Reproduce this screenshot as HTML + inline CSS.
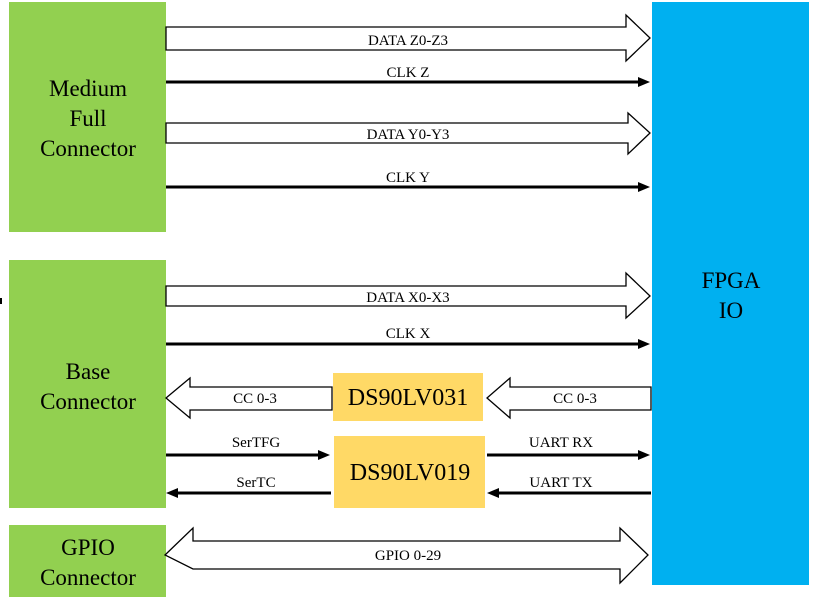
<!DOCTYPE html>
<html><head><style>html,body{margin:0;padding:0;background:#fff;width:823px;height:600px;overflow:hidden}
svg text{font-family:"Liberation Serif","Times New Roman",serif}</style></head>
<body>
<svg width="823" height="600" viewBox="0 0 823 600" xmlns="http://www.w3.org/2000/svg">
<rect x="9" y="2" width="157" height="230" fill="#92d050"/>
<rect x="9" y="260" width="157" height="248" fill="#92d050"/>
<rect x="9" y="525" width="157" height="72" fill="#92d050"/>
<rect x="652" y="2" width="157" height="583" fill="#00b0f0"/>
<rect x="333" y="373" width="150" height="48" fill="#ffd966"/>
<rect x="334" y="436" width="151" height="72" fill="#ffd966"/>
<g font-size="23" text-anchor="middle" fill="#000">
<text x="88" y="96">Medium</text><text x="88" y="126">Full</text><text x="88" y="156">Connector</text>
<text x="88" y="379">Base</text><text x="88" y="409">Connector</text>
<text x="88" y="555">GPIO</text><text x="88" y="585">Connector</text>
<text x="731" y="288">FPGA</text><text x="731" y="318">IO</text>
<text x="408" y="405" font-size="24">DS90LV031</text>
<text x="410" y="480" font-size="24">DS90LV019</text>
</g>
<g fill="#fff" stroke="#000" stroke-width="1.3">
<polygon points="166,27 626,27 626,15 650,38 626,61 626,50 166,50"/>
<polygon points="166,123 628,123 628,113 650,133 628,154 628,143 166,143"/>
<polygon points="166,286 626,286 626,273 650,296 626,318 626,306 166,306"/>
<polygon points="332,387 190,387 190,378 166,398 190,418 190,410 332,410"/>
<polygon points="651,387 510,387 510,378 487,398 510,418 510,410 651,410"/>
<polygon points="165,555 193,528 193,541 620,541 620,528 648,555 620,583 620,569 193,569"/>
</g>
<g stroke="#000" stroke-width="3">
<line x1="166" y1="82" x2="640" y2="82"/>
<line x1="166" y1="187" x2="640" y2="187"/>
<line x1="166" y1="344" x2="640" y2="344"/>
<line x1="166" y1="455" x2="320" y2="455"/>
<line x1="487" y1="455" x2="640" y2="455"/>
<line x1="176" y1="493" x2="331" y2="493"/>
<line x1="497" y1="493" x2="651" y2="493"/>
</g>
<g fill="#000">
<polygon points="638,77 650,82 638,87"/>
<polygon points="638,182 650,187 638,192"/>
<polygon points="638,339 650,344 638,349"/>
<polygon points="318,450 330,455 318,460"/>
<polygon points="638,450 650,455 638,460"/>
<polygon points="178,488 166,493 178,498"/>
<polygon points="499,488 487,493 499,498"/>
</g>
<g font-size="15" text-anchor="middle" fill="#000">
<text x="408" y="45">DATA Z0-Z3</text>
<text x="408" y="77">CLK Z</text>
<text x="408" y="139">DATA Y0-Y3</text>
<text x="408" y="182">CLK Y</text>
<text x="408" y="302">DATA X0-X3</text>
<text x="408" y="338">CLK X</text>
<text x="255" y="403">CC 0-3</text>
<text x="575" y="403">CC 0-3</text>
<text x="256" y="447">SerTFG</text>
<text x="256" y="487">SerTC</text>
<text x="561" y="447">UART RX</text>
<text x="561" y="487">UART TX</text>
<text x="408" y="560">GPIO 0-29</text>
</g>
<rect x="0" y="298" width="2" height="6" fill="#000"/>
</svg>
</body></html>
